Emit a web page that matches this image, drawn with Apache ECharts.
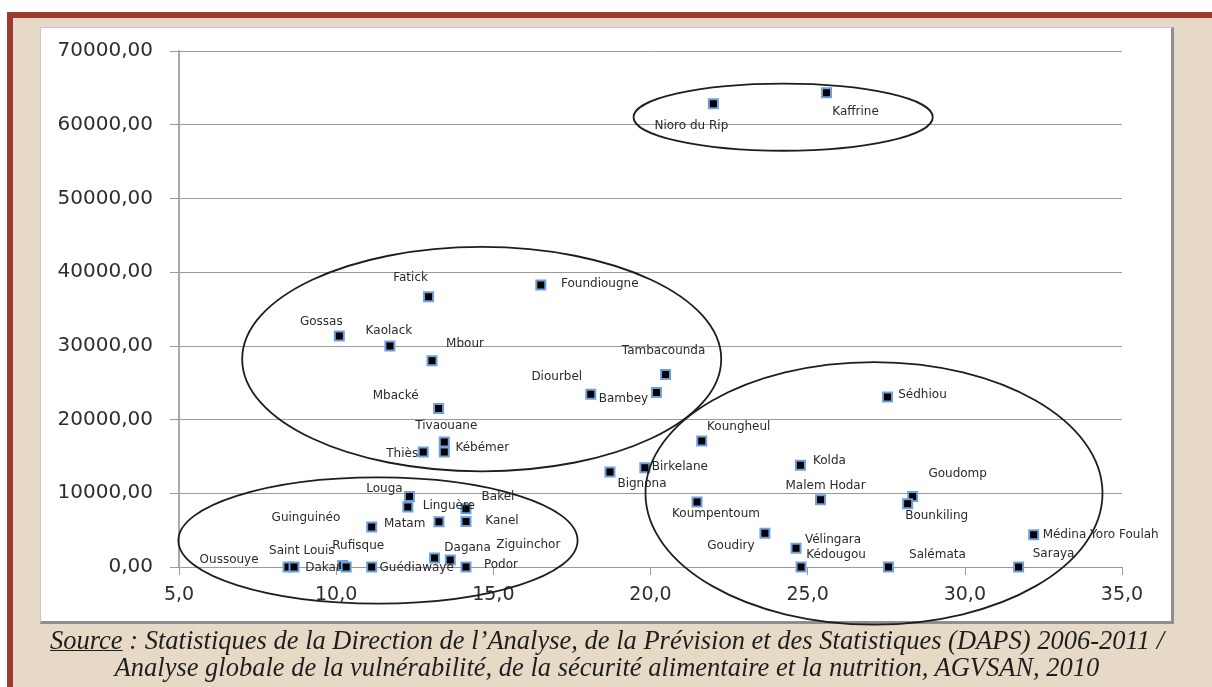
<!DOCTYPE html>
<html>
<head>
<meta charset="utf-8">
<script src="https://cdn.jsdelivr.net/npm/echarts@6/dist/echarts.min.js"></script>
<style>
body { margin: 0; background: #fff; }
#frame { position: absolute; left: 7px; top: 12px; width: 1205px; height: 675px; border-top: 6px solid #9c3a2e; border-left: 6px solid #9c3a2e; background: #e6dac6; box-sizing: border-box; }
#panel { position: absolute; left: 40px; top: 27px; width: 1134px; height: 597px; background: #fff; border: 1px solid #c8c8c8; border-right: 3px solid #8e8e8e; border-bottom: 3px solid #8e8e8e; box-sizing: border-box; }
#chart { position: absolute; left: 0; top: 0; width: 1212px; height: 687px; }
#source { position: absolute; left: 10px; width: 1194px; top: 627px; text-align: center; font-family: "Liberation Serif"; font-style: italic; font-size: 26.5px; line-height: 27px; color: #1e1e1e; white-space: nowrap; }
#source u { text-decoration-thickness: 1px; }
</style>
</head>
<body>
<div id="frame"></div>
<div id="panel"></div>
<div id="chart"></div>
<div id="source"><u>Source</u> : Statistiques de la Direction de l’Analyse, de la Prévision et des Statistiques (DAPS) 2006-2011 /<br>Analyse globale de la vulnérabilité, de la sécurité alimentaire et la nutrition, AGVSAN, 2010</div>
<script>
// departements
var departements = ['Kaffrine', 'Nioro du Rip', 'Fatick', 'Foundiougne', 'Gossas', 'Kaolack', 'Mbour', 'Mbacké',
    'Tivaouane', 'Kébémer', 'Thiès', 'Diourbel', 'Bambey', 'Tambacounda', 'Sédhiou', 'Koungheul', 'Birkelane',
    'Bignona', 'Kolda', 'Goudomp', 'Bounkiling', 'Malem Hodar', 'Koumpentoum', 'Goudiry', 'Vélingara', 'Kédougou',
    'Salémata', 'Saraya', 'Médina Yoro Foulah', 'Oussouye', 'Dakar', 'Saint Louis', 'Rufisque', 'Guédiawaye',
    'Louga', 'Linguère', 'Bakel', 'Kanel', 'Matam', 'Guinguinéo', 'Dagana', 'Ziguinchor', 'Podor'];
var xValues = [25.6, 22.0, 12.94, 16.51, 10.1, 11.71, 13.05, 13.26,
    13.44, 13.44, 12.77, 18.1, 20.19, 20.48, 27.54, 21.63, 19.82,
    18.71, 24.77, 28.34, 28.18, 25.41, 21.48, 23.64, 24.63, 24.79,
    27.57, 31.71, 32.19, 8.47, 8.66, 10.21, 10.32, 11.13,
    12.33, 12.28, 14.13, 14.13, 11.13, 13.27, 13.13, 13.63, 14.13];
var yValues = [64350, 62860, 36670, 38260, 31330, 29970, 27970, 21500,
    16960, 15600, 15600, 23440, 23670, 26120, 23075, 17100, 13480,
    12880, 13790, 9580, 8590, 9130, 8810, 4590, 2555, 0,
    0, 0, 4375, 0, 0, 200, 0, 0,
    9580, 8150, 7910, 6180, 5410, 6140, 1220, 950, 0];
var xTicks = [5, 10, 15, 20, 25, 30, 35];
var yTicks = [0, 10000, 20000, 30000, 40000, 50000, 60000, 70000];

// where each label was dragged to, in px from its marker
var labelOffset = {
    'Kaffrine': [30, 20], 'Nioro du Rip': [-21, 23], 'Fatick': [-17, -18], 'Foundiougne': [60, 0],
    'Gossas': [-17, -13], 'Kaolack': [0, -14], 'Mbour': [34, -16], 'Mbacké': [-42, -12],
    'Tivaouane': [3, -15], 'Kébémer': [39, -3], 'Thiès': [-20, 3], 'Diourbel': [-33, -16],
    'Bambey': [-32, 7], 'Tambacounda': [-1, -23], 'Sédhiou': [36, -1], 'Koungheul': [38, -13],
    'Birkelane': [36, 0], 'Bignona': [33, 13], 'Kolda': [30, -3], 'Goudomp': [46, -22],
    'Bounkiling': [30, 13], 'Malem Hodar': [6, -13], 'Koumpentoum': [20, 13], 'Goudiry': [-33, 14],
    'Vélingara': [38, -7], 'Kédougou': [36, -11], 'Salémata': [50, -11], 'Saraya': [36, -12],
    'Médina Yoro Foulah': [68, 1], 'Oussouye': [-58, -6], 'Dakar': [30, 2], 'Saint Louis': [-40, -14],
    'Rufisque': [13, -20], 'Guédiawaye': [46, 2], 'Louga': [-24, -7], 'Linguère': [42, 0],
    'Bakel': [33, -11], 'Kanel': [37, 0], 'Matam': [34, -2], 'Guinguinéo': [-132, -3],
    'Dagana': [34, -9], 'Ziguinchor': [79, -14], 'Podor': [36, -1]
};

// hand drawn ellipses around the groups (data units: centre x, centre y, radius x, radius y)
var groups = [
    [24.22, 61020, 4.76, 4550],
    [14.63, 28200, 7.62, 15220],
    [11.33, 3600, 6.35, 8560],
    [27.11, 9990, 7.27, 17800]
];

function comma(v, d) { return v.toFixed(d).replace('.', ','); }

var symSize = 9;
var chart = echarts.init(document.getElementById('chart'), null, {renderer: 'canvas'});
var gray = '#9a9a9a';
chart.setOption({
    animation: false,
    grid: {left: 179, right: 90, top: 51, bottom: 120},
    xAxis: {
        type: 'value', min: xTicks[0], max: xTicks[xTicks.length - 1], interval: 5,
        axisLine: {show: true, lineStyle: {color: gray, width: 1}},
        axisTick: {show: true, length: 8, lineStyle: {color: gray}},
        axisLabel: {formatter: function (v) { return comma(v, 1); }, fontSize: 19, color: '#2e2e2e', fontFamily: 'DejaVu Sans', margin: 19},
        splitLine: {show: false}
    },
    yAxis: {
        type: 'value', min: yTicks[0], max: yTicks[yTicks.length - 1], interval: 10000,
        axisLine: {show: true, lineStyle: {color: '#a8a8a8', width: 2}},
        axisTick: {show: true, length: 9, lineStyle: {color: gray}},
        axisLabel: {formatter: function (v) { return comma(v, 2); }, fontSize: 20, color: '#2e2e2e', fontFamily: 'DejaVu Sans', margin: 26},
        splitLine: {show: true, lineStyle: {color: gray, width: 1}}
    },
    series: [{
        type: 'scatter',
        symbol: 'rect',
        symbolSize: symSize,
        itemStyle: {color: '#000', borderColor: '#6f9fdc', borderWidth: 2, opacity: 1},
        label: {show: true, formatter: '{b}', color: '#2a2a2a', fontSize: 12, fontFamily: 'DejaVu Sans', align: 'center', verticalAlign: 'middle'},
        labelLayout: {hideOverlap: false},
        data: departements.map(function (n, i) {
            var o = labelOffset[n];
            return {
                name: n, value: [xValues[i], yValues[i]],
                label: {position: [symSize / 2 + o[0], symSize / 2 + o[1]], align: 'center', verticalAlign: 'middle'}
            };
        })
    }]
});

var shapes = groups.map(function (g) {
    var c = chart.convertToPixel({gridIndex: 0}, [g[0], g[1]]);
    var ex = chart.convertToPixel({gridIndex: 0}, [g[0] + g[2], g[1]]);
    var ey = chart.convertToPixel({gridIndex: 0}, [g[0], g[1] + g[3]]);
    return {
        type: 'ellipse', z: 100, silent: true,
        shape: {cx: c[0], cy: c[1], rx: ex[0] - c[0], ry: c[1] - ey[1]},
        style: {fill: 'none', stroke: '#1e1e1e', lineWidth: 1.8}
    };
});
chart.setOption({graphic: shapes});
</script>
</body>
</html>
